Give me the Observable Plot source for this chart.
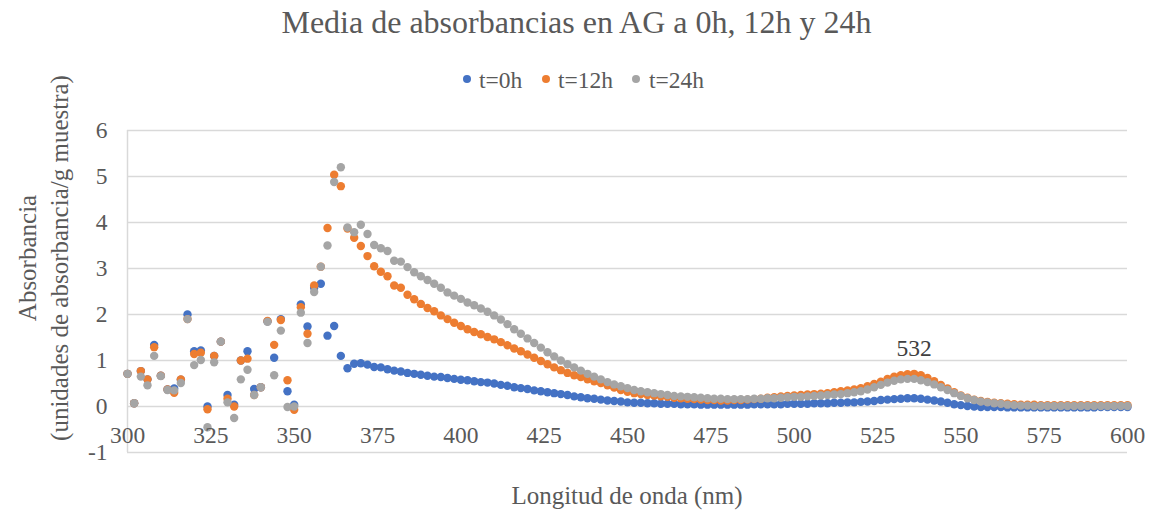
<!DOCTYPE html>
<html>
<head>
<meta charset="utf-8">
<script src="https://cdn.jsdelivr.net/npm/d3@7"></script>
<script src="https://cdn.jsdelivr.net/npm/@observablehq/plot@0.6"></script>
<style>
  body { margin: 0; background: #ffffff; }
  #wrap { position: relative; width: 1153px; height: 513px; font-family: "Liberation Serif", "Times New Roman", serif; color: #595959; overflow: hidden; }
  #chart { position: absolute; left: 0; top: 0; }
  #title { position: absolute; left: 0; top: 6px; width: 1153px; text-align: center; font-size: 32px; line-height: 32px; white-space: nowrap; }
  .leg { position: absolute; top: 68px; font-size: 23.5px; line-height: 24px; white-space: nowrap; }
  .legdot { position: absolute; width: 8px; height: 8px; border-radius: 50%; top: 75px; }
  #xtitle { position: absolute; left: 127px; width: 1000px; top: 483px; text-align: center; font-size: 25px; line-height: 25px; white-space: nowrap; }
  #ytitle { position: absolute; width: 440px; height: 64px; left: calc(44px - 220px); top: calc(258px - 32px); text-align: center; font-size: 25px; line-height: 32px; transform: rotate(-90deg); white-space: nowrap; }
</style>
</head>
<body>
<div id="wrap">
  <div id="chart"></div>
  <div id="title"></div>
  <div id="legend"></div>
  <div id="xtitle"></div>
  <div id="ytitle"></div>
</div>
<script>
// ---- Data ----
const titleText = "Media de absorbancias en AG a 0h, 12h y 24h";
const xTitle = "Longitud de onda (nm)";
const yTitleLines = ["Absorbancia", "(unidades de absorbancia/g muestra)"];
const seriesNames = ["t=0h", "t=12h", "t=24h"];
const seriesColors = ["#4472C4", "#ED7D31", "#A5A5A5"];
const xTicks = [300, 325, 350, 375, 400, 425, 450, 475, 500, 525, 550, 575, 600];
const yTicks = [-1, 0, 1, 2, 3, 4, 5, 6];
const wavelengths = d3.range(300, 602, 2); // 300..600 nm every 2 nm

const t0h = [
  0.71, 0.07, 0.77, 0.59, 1.34, 0.67, 0.37, 0.39, 0.58, 2.00,
  1.20, 1.22, 0.00, 1.10, 1.41, 0.25, 0.04, 1.00, 1.20, 0.38,
  0.42, 1.85, 1.06, 1.90, 0.33, 0.04, 2.22, 1.74, 2.58, 2.67,
  1.54, 1.75, 1.10, 0.83, 0.93, 0.94, 0.91, 0.86, 0.85, 0.81,
  0.78, 0.76, 0.73, 0.71, 0.69, 0.67, 0.65, 0.64, 0.62, 0.60,
  0.58, 0.57, 0.55, 0.53, 0.52, 0.50, 0.47, 0.45, 0.42, 0.40,
  0.38, 0.35, 0.33, 0.31, 0.29, 0.27, 0.25, 0.22, 0.20, 0.18,
  0.17, 0.15, 0.13, 0.12, 0.11, 0.09, 0.08, 0.08, 0.07, 0.07,
  0.06, 0.06, 0.06, 0.05, 0.05, 0.05, 0.04, 0.04, 0.04, 0.04,
  0.04, 0.04, 0.04, 0.04, 0.05, 0.05, 0.05, 0.05, 0.05, 0.06,
  0.06, 0.06, 0.06, 0.07, 0.07, 0.07, 0.08, 0.08, 0.09, 0.09,
  0.10, 0.11, 0.12, 0.14, 0.15, 0.16, 0.17, 0.18, 0.18, 0.17,
  0.15, 0.13, 0.11, 0.08, 0.05, 0.03, 0.01, 0.00, -0.01, -0.01,
  -0.01, -0.01, -0.02, -0.02, -0.02, -0.02, -0.02, -0.02, -0.02, -0.02,
  -0.02, -0.02, -0.02, -0.02, -0.02, -0.02, -0.01, -0.01, -0.01, -0.01,
  -0.01
];
const t12h = [
  0.71, 0.07, 0.77, 0.59, 1.29, 0.67, 0.37, 0.30, 0.59, 1.90,
  1.14, 1.17, -0.06, 1.10, 1.41, 0.17, 0.00, 1.00, 1.04, 0.25,
  0.42, 1.86, 1.34, 1.88, 0.57, -0.07, 2.16, 1.58, 2.63, 3.04,
  3.88, 5.04, 4.79, 3.87, 3.67, 3.49, 3.27, 3.05, 2.93, 2.83,
  2.63, 2.58, 2.43, 2.33, 2.23, 2.14, 2.07, 1.98, 1.90, 1.82,
  1.75, 1.68, 1.62, 1.57, 1.51, 1.46, 1.40, 1.33, 1.26, 1.20,
  1.13, 1.06, 0.99, 0.92, 0.85, 0.79, 0.73, 0.68, 0.64, 0.59,
  0.55, 0.51, 0.46, 0.41, 0.36, 0.32, 0.29, 0.27, 0.25, 0.24,
  0.22, 0.21, 0.19, 0.18, 0.17, 0.16, 0.15, 0.14, 0.14, 0.13,
  0.13, 0.14, 0.14, 0.15, 0.16, 0.17, 0.19, 0.20, 0.22, 0.23,
  0.24, 0.25, 0.26, 0.27, 0.28, 0.29, 0.31, 0.33, 0.35, 0.37,
  0.40, 0.44, 0.49, 0.54, 0.60, 0.65, 0.68, 0.70, 0.71, 0.68,
  0.62, 0.55, 0.47, 0.39, 0.31, 0.24, 0.19, 0.15, 0.12, 0.10,
  0.08, 0.07, 0.06, 0.05, 0.04, 0.04, 0.04, 0.03, 0.03, 0.03,
  0.03, 0.03, 0.03, 0.03, 0.03, 0.03, 0.03, 0.03, 0.03, 0.03,
  0.03
];
const t24h = [
  0.71, 0.07, 0.65, 0.46, 1.10, 0.66, 0.36, 0.35, 0.51, 1.90,
  0.90, 1.01, -0.45, 0.96, 1.41, 0.09, -0.25, 0.59, 0.80, 0.25,
  0.42, 1.84, 0.68, 1.65, -0.01, 0.00, 2.04, 1.38, 2.49, 3.04,
  3.50, 4.88, 5.20, 3.89, 3.79, 3.95, 3.75, 3.51, 3.44, 3.38,
  3.17, 3.15, 3.03, 2.92, 2.83, 2.75, 2.67, 2.58, 2.48, 2.41,
  2.34, 2.26, 2.20, 2.13, 2.06, 1.98, 1.89, 1.79, 1.68, 1.58,
  1.48, 1.38, 1.28, 1.18, 1.09, 1.00, 0.92, 0.85, 0.78, 0.71,
  0.65, 0.59, 0.53, 0.48, 0.44, 0.40, 0.36, 0.33, 0.31, 0.29,
  0.27, 0.25, 0.23, 0.22, 0.21, 0.20, 0.19, 0.18, 0.17, 0.17,
  0.16, 0.16, 0.16, 0.16, 0.17, 0.17, 0.18, 0.18, 0.19, 0.20,
  0.21, 0.21, 0.22, 0.23, 0.24, 0.25, 0.26, 0.27, 0.29, 0.31,
  0.33, 0.37, 0.42, 0.47, 0.52, 0.56, 0.59, 0.60, 0.60, 0.57,
  0.53, 0.48, 0.42, 0.36, 0.29, 0.23, 0.18, 0.14, 0.11, 0.09,
  0.07, 0.06, 0.04, 0.03, 0.02, 0.02, 0.01, 0.01, 0.01, 0.01,
  0.01, 0.01, 0.01, 0.01, 0.01, 0.01, 0.01, 0.01, 0.01, 0.01,
  0.01
];
const annotations = [{x: 536, y: 0.71, label: "532"}];

// ---- Build ----
const seriesValues = [t0h, t12h, t24h];
const rows = [];
seriesValues.forEach((vals, s) => {
  vals.forEach((v, i) => rows.push({nm: wavelengths[i], value: v, series: seriesNames[s]}));
});

const chart = Plot.plot({
  width: 1153,
  height: 513,
  marginTop: 130,
  marginBottom: 61,
  marginLeft: 127,
  marginRight: 26,
  x: {domain: [300, 600], axis: null},
  y: {domain: [-1, 6]},
  color: {domain: seriesNames, range: seriesColors},
  style: {fontFamily: "Liberation Serif", fontSize: "23.5px", color: "#595959", background: "transparent"},
  marks: [
    Plot.ruleY(yTicks, {stroke: "#D9D9D9", strokeWidth: 1.5}),
    Plot.ruleX([300], {stroke: "#D9D9D9", strokeWidth: 1.5}),
    Plot.axisY({ticks: yTicks, tickSize: 0, tickPadding: 20, tickFormat: d => String(d), label: null, fontSize: 23.5, fill: "#595959"}),
    Plot.dot(rows, {x: "nm", y: "value", fill: "series", r: 4.2, stroke: "none"}),
    Plot.text(xTicks, {x: d => d, y: d => 0, dy: 29, text: d => String(d), fontSize: 23.5, fill: "#595959"}),
    Plot.text(annotations, {x: "x", y: "y", text: "label", dy: -25, fontSize: 23.5, fill: "#404040"})
  ]
});
document.getElementById("chart").appendChild(chart);

document.getElementById("title").textContent = titleText;
document.getElementById("xtitle").textContent = xTitle;
document.getElementById("ytitle").innerHTML = yTitleLines.map(t => `<div>${t}</div>`).join("");

const legendPos = [{dot: 463, text: 479}, {dot: 542, text: 558}, {dot: 632, text: 649}];
const legend = document.getElementById("legend");
seriesNames.forEach((name, i) => {
  const dot = document.createElement("div");
  dot.className = "legdot";
  dot.style.left = legendPos[i].dot + "px";
  dot.style.background = seriesColors[i];
  legend.appendChild(dot);
  const t = document.createElement("div");
  t.className = "leg";
  t.style.left = legendPos[i].text + "px";
  t.textContent = name;
  legend.appendChild(t);
});
</script>
</body>
</html>
